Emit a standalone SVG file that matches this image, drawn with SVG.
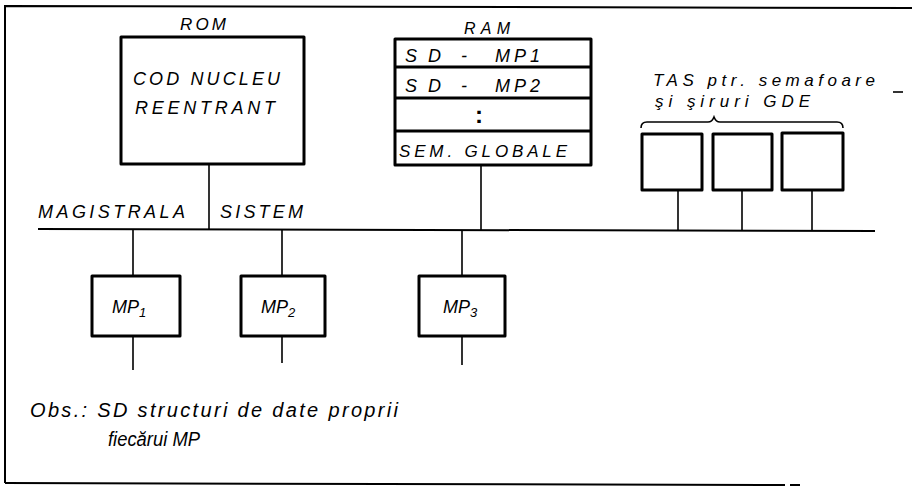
<svg xmlns="http://www.w3.org/2000/svg" width="912" height="487" viewBox="0 0 912 487">
<style>
text{font-family:"Liberation Sans","DejaVu Sans",sans-serif;font-style:italic;fill:#000;}
.box{fill:#fff;stroke:#000;stroke-width:3;stroke-linejoin:round;}
.thin{fill:none;stroke:#000;stroke-width:1.6;}
.frame{fill:none;stroke:#000;stroke-width:2;}
.bus{fill:none;stroke:#000;stroke-width:2;}
</style>
<rect width="912" height="487" fill="#fff"/>
<g id="frame">
<path class="frame" d="M5,483 L5,6 L912,8"/>
<path class="frame" d="M5,483 L785,485"/>
<path class="frame" d="M790,485 L800,485"/>
</g>
<g id="connectors">
<path class="bus" d="M38,229 L875,231"/>
<path class="thin" d="M209,165 V230"/>
<path class="thin" d="M481,165 V230"/>
<path class="thin" d="M678,190 V231"/>
<path class="thin" d="M742,190 V231"/>
<path class="thin" d="M812,190 V231"/>
<path class="thin" d="M133,230 V276 M133,336 V370"/>
<path class="thin" d="M282,230 V276 M282,336 V363"/>
<path class="thin" d="M462,231 V276 M462,336 V365"/>
</g>
<g id="bus-label">
<text x="38" y="218" font-size="18" textLength="147" lengthAdjust="spacing">MAGISTRALA</text>
<text x="220" y="218" font-size="18" textLength="83" lengthAdjust="spacing">SISTEM</text>
</g>
<g id="rom">
<text x="180" y="30" font-size="17" textLength="46" lengthAdjust="spacing">ROM</text>
<rect class="box" x="121" y="37" width="183" height="127"/>
<text x="133" y="85" font-size="18" textLength="147" lengthAdjust="spacing">COD NUCLEU</text>
<text x="135" y="114" font-size="18" textLength="140" lengthAdjust="spacing">REENTRANT</text>
</g>
<g id="ram">
<text x="464" y="34" font-size="16" textLength="46" lengthAdjust="spacing">RAM</text>
<rect class="box" x="395" y="39" width="196" height="126"/>
<path class="box" d="M395,67 H591 M395,98 H591 M395,131 H591" fill="none"/>
<text y="62" font-size="18"><tspan x="405" textLength="36" lengthAdjust="spacing">SD</tspan> <tspan x="461">-</tspan> <tspan x="495" textLength="45" lengthAdjust="spacing">MP1</tspan></text>
<text y="92" font-size="18"><tspan x="405" textLength="36" lengthAdjust="spacing">SD</tspan> <tspan x="461">-</tspan> <tspan x="495" textLength="45" lengthAdjust="spacing">MP2</tspan></text>
<text x="479" y="123" font-size="24" font-weight="bold" text-anchor="middle" style="font-style:normal">:</text>
<text x="399" y="157" font-size="17" textLength="168" lengthAdjust="spacing">SEM. GLOBALE</text>
</g>
<g id="tas">
<text x="653" y="86" font-size="17" textLength="222" lengthAdjust="spacing">TAS ptr. semafoare</text>
<path class="thin" d="M893,92 H903"/>
<text x="655" y="107" font-size="17" textLength="155" lengthAdjust="spacing">şi şiruri GDE</text>
<path class="thin" d="M641,128 Q641,122 647,122 H708 Q712,122 714,117 Q716,122 720,122 H837 Q843,122 843,128"/>
</g>
<g id="tas1"><rect class="box" x="642" y="134" width="60" height="56"/></g>
<g id="tas2"><rect class="box" x="713" y="134" width="59" height="56"/></g>
<g id="tas3"><rect class="box" x="782" y="133" width="61" height="57"/></g>
<g id="mp1">
<rect class="box" x="92" y="276" width="88" height="60"/>
<text x="112" y="313" font-size="18">MP<tspan font-size="13" dy="4">1</tspan></text>
</g>
<g id="mp2">
<rect class="box" x="241" y="276" width="84" height="60"/>
<text x="261" y="313" font-size="18">MP<tspan font-size="13" dy="4">2</tspan></text>
</g>
<g id="mp3">
<rect class="box" x="419" y="276" width="86" height="60"/>
<text x="443" y="313" font-size="18">MP<tspan font-size="13" dy="4">3</tspan></text>
</g>
<g id="note">
<text x="30" y="417" font-size="20" textLength="368" lengthAdjust="spacing">Obs.: SD structuri de date proprii</text>
<text x="108" y="446" font-size="20" textLength="92" lengthAdjust="spacingAndGlyphs">fiecărui MP</text>
</g>
</svg>
